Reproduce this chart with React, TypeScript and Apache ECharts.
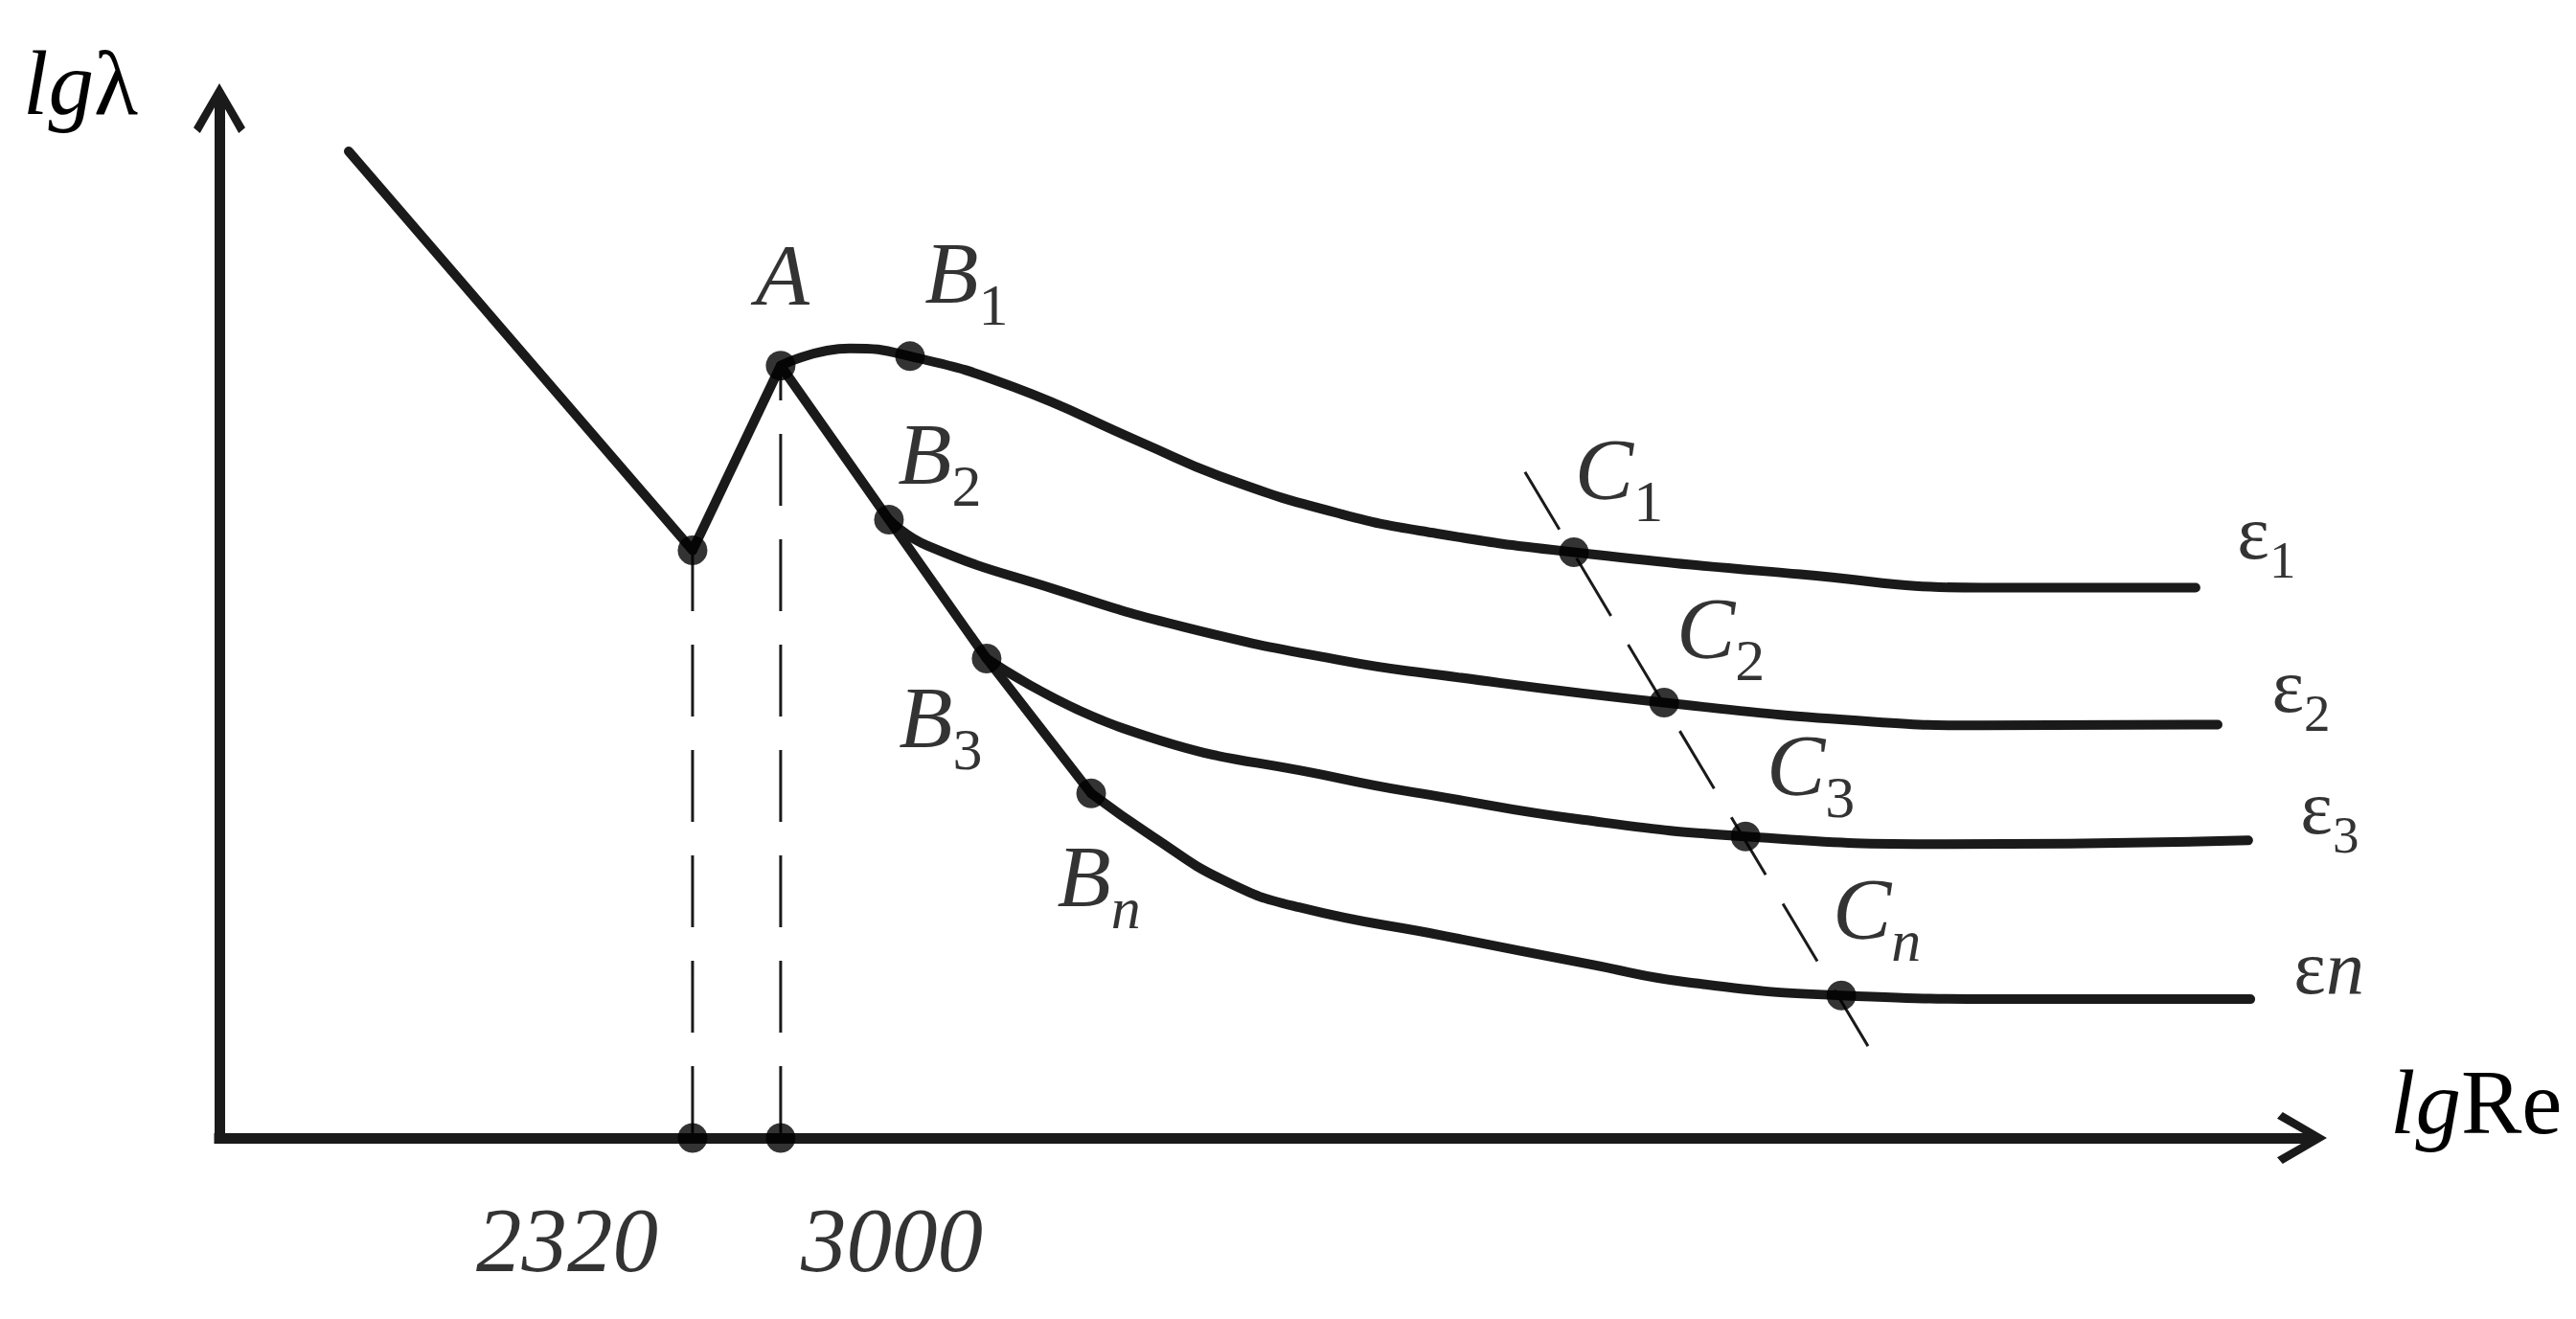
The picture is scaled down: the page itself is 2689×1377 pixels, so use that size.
import React, { useEffect, useRef } from 'react';
import * as echarts from 'echarts';

// Schematic coordinates (x: lgRe units 0..100, y: lgλ units 0..50)
const laminar = [[6.21, 47.91], [22.72, 28.53], [26.95, 37.5]];
const transition = [[26.95, 37.5], [32.15, 30.02], [36.84, 23.28], [41.86, 16.73]];
const eps1 = [[26.95, 37.5], [30.27, 38.34], [33.16, 37.96], [38.09, 36.48], [44.25, 33.78], [48.34, 32.02], [53.86, 30.3], [58.46, 29.35], [65.04, 28.44], [75.9, 27.37], [84.64, 26.72], [94.89, 26.72]];
const eps2 = [[32.15, 30.02], [33.99, 28.76], [40.16, 26.63], [46.32, 24.81], [53.86, 23.19], [58.46, 22.5], [69.37, 21.14], [79.39, 20.21], [84.64, 20.03], [95.95, 20.07]];
const eps3 = [[36.84, 23.28], [43.65, 19.8], [53.86, 17.45], [58.46, 16.6], [65.46, 15.45], [73.28, 14.64], [82.89, 14.27], [97.42, 14.45]];
const epsN = [[41.86, 16.73], [44.8, 14.64], [48.34, 12.45], [51.84, 11.2], [58.88, 9.8], [65.92, 8.41], [70.42, 7.57], [77.88, 6.92], [86.38, 6.74], [97.52, 6.74]];
const cLine = [[62.69, 32.34], [79.16, 4.46]];
const reCritical = [22.72, 26.95];
const reTickLabels = ['2320', '3000'];
const curveNames = ['1', '2', '3', 'n'];

const SERIF = '"Liberation Serif", "Times New Roman", serif';
const INK = '#1a1a1a';

const arrowPath = 'path://M28,0 L56,48 L49,54 L28,17 L7,54 L0,48 Z M23,8 L33,8 L33,54 L23,54 Z';

const labelOffset: Record<string, [number, number]> = {
  A: [2, -86], B1: [59, -78], B2: [53, -60], B3: [-48, 71], Bn: [8, 96],
  C1: [47, -78], C2: [59, -68], C3: [68, -65], Cn: [37, -81],
};
const epsOffset: [number, number][] = [[74, -50], [87, -32], [85, -26], [82, -25]];
const tickOffset: [number, number][] = [[-131, 107], [116, 107]];

export default function App() {
  const ref = useRef<HTMLDivElement>(null);
  useEffect(() => {
    if (!ref.current) return;
    const chart = echarts.init(ref.current, null, { renderer: 'svg' });

    const curves = [eps1, eps2, eps3, epsN];
    const named = [
      { name: 'A', value: eps1[0] },
      { name: 'B1', value: eps1[2] },
      { name: 'B2', value: eps2[0] },
      { name: 'B3', value: eps3[0] },
      { name: 'Bn', value: epsN[0] },
      { name: 'C1', value: eps1[8] },
      { name: 'C2', value: eps2[6] },
      { name: 'C3', value: eps3[5] },
      { name: 'Cn', value: epsN[7] },
    ];

    const richMain = {
      m: { fontFamily: SERIF, fontStyle: 'italic', fontSize: 92, lineHeight: 110, verticalAlign: 'top', color: '#000' },
      s: { fontFamily: SERIF, fontSize: 62, lineHeight: 60, verticalAlign: 'bottom', color: '#000' },
      si: { fontFamily: SERIF, fontStyle: 'italic', fontSize: 62, lineHeight: 60, verticalAlign: 'bottom', color: '#000' },
      e: { fontFamily: SERIF, fontSize: 80, lineHeight: 96, verticalAlign: 'top', color: '#000' },
      es: { fontFamily: SERIF, fontSize: 55, lineHeight: 42, verticalAlign: 'bottom', color: '#000' },
      en: { fontFamily: SERIF, fontStyle: 'italic', fontSize: 80, lineHeight: 96, verticalAlign: 'top', color: '#000' },
      t: { fontFamily: SERIF, fontStyle: 'italic', fontSize: 95, lineHeight: 100, color: '#000' },
    };

    const lineSeries = (data: number[][], smooth: number | boolean, extra: any = {}) => ({
      type: 'line',
      data,
      smooth,
      showSymbol: false,
      symbol: 'none',
      silent: true,
      z: 2,
      lineStyle: { color: INK, width: 10, cap: 'round', join: 'round' },
      ...extra,
    });

    const labelBase = {
      show: true,
      position: 'inside',
      color: '#000',
      textBorderWidth: 0,
      rich: richMain,
    };

    const option: any = {
      animation: false,
      backgroundColor: '#ffffff',
      grid: { left: 229, right: 286, top: 113, bottom: 189, containLabel: false },
      xAxis: {
        type: 'value',
        min: 0,
        max: 100,
        axisLine: {
          show: true,
          onZero: false,
          symbol: ['none', arrowPath],
          symbolSize: [58, 52],
          lineStyle: { color: INK, width: 11, cap: 'square' },
        },
        axisTick: { show: false },
        splitLine: { show: false },
        axisLabel: { show: false },
        name: '{i|lg}{u|Re}',
        nameLocation: 'end',
        nameGap: 92,
        nameTextStyle: {
          padding: [0, 0, 74, 0],
          rich: {
            i: { fontFamily: SERIF, fontStyle: 'italic', fontSize: 95, lineHeight: 100, color: '#000' },
            u: { fontFamily: SERIF, fontSize: 95, lineHeight: 100, color: '#000' },
          },
        },
      },
      yAxis: {
        type: 'value',
        min: 0,
        max: 50,
        axisLine: {
          show: true,
          onZero: false,
          symbol: ['none', arrowPath],
          symbolSize: [58, 52],
          lineStyle: { color: INK, width: 11, cap: 'square' },
        },
        axisTick: { show: false },
        splitLine: { show: false },
        axisLabel: { show: false },
        name: '{i|lg}{u|λ}',
        nameLocation: 'end',
        nameGap: 26,
        nameTextStyle: {
          align: 'right',
          verticalAlign: 'middle',
          padding: [0, 85, 0, 0],
          rich: {
            i: { fontFamily: SERIF, fontStyle: 'italic', fontSize: 95, lineHeight: 100, color: '#000' },
            u: { fontFamily: SERIF, fontSize: 95, lineHeight: 100, color: '#000' },
          },
        },
      },
      series: [
        lineSeries(laminar, false),
        lineSeries(transition, false),
        ...curves.map((c) => lineSeries(c, 0.5)),
        lineSeries(cLine, false, { lineStyle: { color: INK, width: 3, type: [70, 35] } }),
        ...reCritical.map((x, i) =>
          lineSeries([[x, 0], [x, (i === 0 ? laminar[1] : laminar[2])[1]]], false, {
            lineStyle: { color: INK, width: 3, type: [75, 35] },
          })
        ),
        {
          type: 'scatter',
          silent: true,
          z: 5,
          symbol: 'circle',
          symbolSize: 31,
          itemStyle: { color: '#000' },
          data: [laminar[1]],
        },
        {
          // critical Reynolds numbers on the lgRe axis
          type: 'scatter',
          silent: true,
          z: 5,
          symbol: 'circle',
          symbolSize: 31,
          itemStyle: { color: '#000' },
          data: reCritical.map((x, i) => ({
            name: reTickLabels[i],
            value: [x, 0],
            label: { offset: tickOffset[i] },
          })),
          label: { ...labelBase, formatter: (p: any) => `{t|${p.name}}` },
        },
        {
          type: 'scatter',
          silent: true,
          z: 5,
          symbol: 'circle',
          symbolSize: 31,
          itemStyle: { color: '#000' },
          data: named.map((p) => ({
            name: p.name,
            value: p.value,
            label: { offset: labelOffset[p.name] },
          })),
          label: {
            ...labelBase,
            formatter: (p: any) => {
              const n: string = p.name;
              if (n.length === 1) return `{m|${n}}`;
              const sub = n.slice(1);
              return `{m|${n[0]}}{${sub === 'n' ? 'si' : 's'}|${sub}}`;
            },
          },
        },
        {
          type: 'scatter',
          silent: true,
          z: 5,
          symbolSize: 0,
          itemStyle: { color: 'transparent' },
          data: curves.map((c, i) => ({
            name: 'ε' + curveNames[i],
            value: c[c.length - 1],
            label: { offset: epsOffset[i] },
          })),
          label: {
            ...labelBase,
            formatter: (p: any) => {
              const sub = p.name.slice(1);
              return sub === 'n' ? `{e|ε}{en|n}` : `{e|ε}{es|${sub}}`;
            },
          },
        },
      ],
    };

    chart.setOption(option);
    return () => chart.dispose();
  }, []);

  return (
    <div
      ref={ref}
      style={{ position: 'fixed', left: 0, top: 0, width: '2689px', height: '1377px', background: '#fff' }}
    />
  );
}
